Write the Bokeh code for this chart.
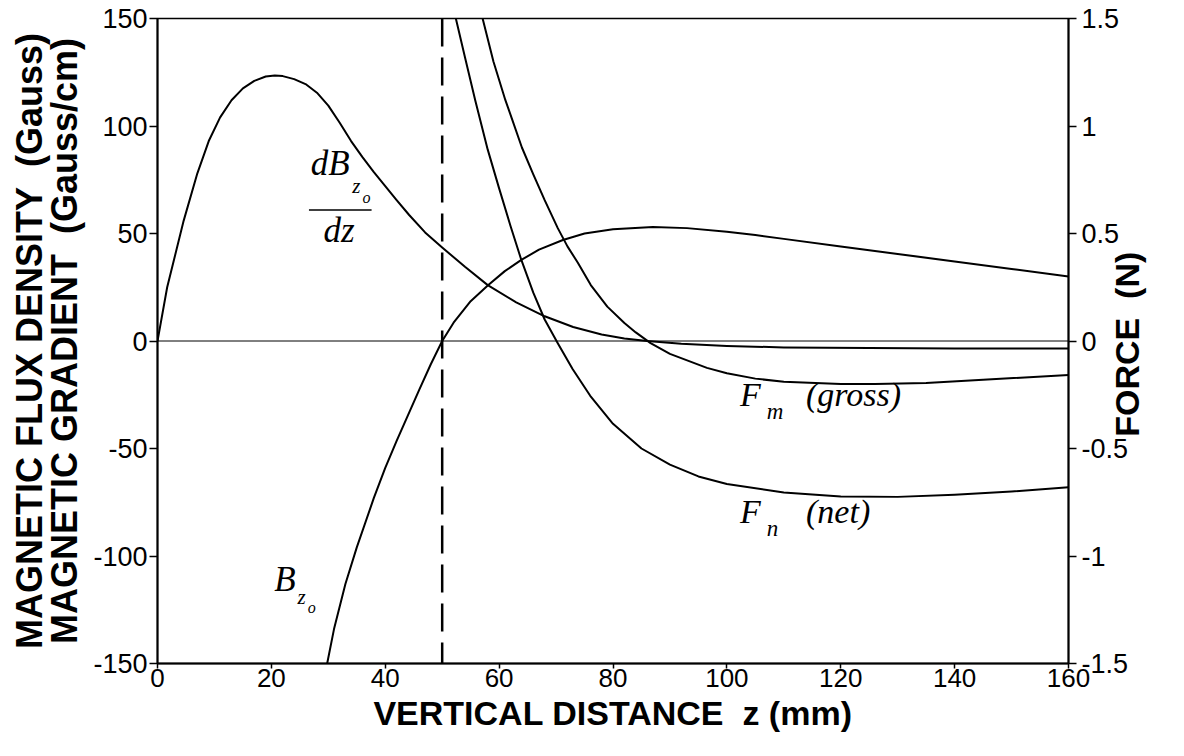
import math
from bokeh.plotting import figure
from bokeh.models import Range1d, LinearAxis, FixedTicker, Span, Label, CustomJSTickFormatter
from bokeh.embed import file_html
from bokeh.resources import INLINE

# ---------------- data ----------------
# magnetic gradient dBzo/dz (Gauss/cm), left axis
z_grad = [0, 1.7, 4.6, 7, 9, 11, 13, 15, 17, 19, 20.6, 22, 24, 26, 28, 30, 32, 34, 36, 38,
          40, 42, 44.2, 47, 50, 54, 58, 63, 68, 73, 78, 82, 86, 92, 100, 110, 125, 140, 160]
grad = [0, 25, 56, 78, 93, 104, 112, 117.5, 121, 123, 123.5, 123.2, 121.8, 119.5, 115.5,
        109.5, 101.5, 93, 85.5, 78.5, 72, 65.5, 58.6, 50.5, 43.5, 34.5, 26, 18, 11.5, 6.5,
        3, 1.2, 0, -1.3, -2.3, -3, -3.3, -3.5, -3.5]

# magnetic flux density Bzo (Gauss), left axis
z_flux = [29.8, 31, 33, 35, 38, 40, 42, 44, 46, 48, 50, 52, 55, 58.1, 61, 63.9, 67,
          71.2, 75, 80, 87, 93, 100, 105, 110, 120, 130, 140, 150, 160]
flux = [-150, -134, -113, -96, -73, -59, -46.5, -34.5, -22.5, -10.8, 0, 8.5, 18.5, 26,
        32.5, 37.7, 42.5, 47, 50, 52, 53, 52.5, 50.8, 49.3, 47.5, 44, 40.5, 37, 33.5, 30]

# gross magnetic force Fm (N), right axis
z_gross = [57.1, 59, 61.1, 62.3, 64, 66, 68, 70.3, 72, 73.8, 76.1, 79, 82, 84, 86.6,
           90, 96.5, 100, 105, 110, 120, 126, 135, 145, 160]
f_gross = [1.5, 1.30, 1.12, 1.03, 0.90, 0.775, 0.655, 0.525, 0.44, 0.365, 0.26, 0.16,
           0.084, 0.04, -0.01, -0.06, -0.125, -0.15, -0.175, -0.19, -0.20, -0.20,
           -0.195, -0.18, -0.158]

# net force Fn (N), right axis
z_net = [52.4, 54, 55.8, 58, 60, 62, 63.9, 66, 68, 70.3, 72.9, 76, 80, 85, 90, 95, 100,
         110, 120, 130, 140, 150, 160]
f_net = [1.5, 1.32, 1.12, 0.89, 0.71, 0.535, 0.377, 0.225, 0.10, -0.01, -0.13, -0.255,
         -0.385, -0.50, -0.575, -0.63, -0.665, -0.705, -0.723, -0.725, -0.715, -0.70, -0.68]

x_ticks = [0, 20, 40, 60, 80, 100, 120, 140, 160]
left_ticks = [-150, -100, -50, 0, 50, 100, 150]
right_ticks = [-1.5, -1, -0.5, 0, 0.5, 1, 1.5]
gap_position = 50  # dashed vertical marker (mm)

NB = "\u00a0"

# ---------------- figure ----------------
p = figure(width=1168, height=740, x_range=Range1d(0, 160), y_range=Range1d(-150, 150),
           output_backend="svg", toolbar_location=None,
           min_border_left=157, min_border_right=93, min_border_top=18, min_border_bottom=77)
p.extra_y_ranges = {"force": Range1d(-1.5, 1.5)}
p.grid.visible = False
p.outline_line_color = "black"
p.outline_line_width = 1.5
p.background_fill_color = "white"
p.border_fill_color = "white"

fmt = CustomJSTickFormatter(code="return tick.toString();")
right_axis = LinearAxis(y_range_name="force")
p.add_layout(right_axis, "right")

p.xaxis.ticker = FixedTicker(ticks=x_ticks)
p.yaxis[0].ticker = FixedTicker(ticks=left_ticks)
right_axis.ticker = FixedTicker(ticks=right_ticks)

for ax in [p.xaxis[0], p.yaxis[0], right_axis]:
    ax.formatter = fmt
    ax.major_tick_in = 0
    ax.major_tick_out = 8
    ax.minor_tick_in = 0
    ax.minor_tick_out = 0
    ax.axis_line_width = 2
    ax.axis_line_color = "black"
    ax.major_tick_line_width = 1.5
    ax.major_tick_line_color = "black"
    ax.major_label_text_font = "Liberation Sans"
    ax.major_label_text_font_size = "27px"
    ax.major_label_text_color = "black"
    ax.axis_label_text_font = "Liberation Sans"
    ax.axis_label_text_font_style = "bold"
    ax.axis_label_text_color = "black"
p.xaxis[0].major_tick_out = 5
p.xaxis[0].major_label_standoff = 0
p.xaxis[0].major_label_text_font_size = "26px"
p.yaxis[0].major_label_standoff = 2
right_axis.major_label_standoff = 5

# axis titles
p.xaxis[0].axis_label = "VERTICAL DISTANCE" + NB + NB + "z (mm)"
p.xaxis[0].axis_label_text_font_size = "34px"
p.xaxis[0].axis_label_standoff = 4

p.yaxis[0].axis_label = "MAGNETIC GRADIENT" + NB + NB + "(Gauss/cm)"
p.yaxis[0].axis_label_text_font_size = "36px"
p.yaxis[0].axis_label_standoff = 5

outer = LinearAxis(ticker=FixedTicker(ticks=[]), axis_line_color=None,
                   major_tick_out=0, major_tick_in=0, minor_tick_out=0, minor_tick_in=0,
                   major_label_standoff=0,
                   axis_label="MAGNETIC FLUX DENSITY" + NB + NB + "(Gauss)",
                   axis_label_text_font="Liberation Sans", axis_label_text_font_style="bold",
                   axis_label_text_font_size="36px", axis_label_text_color="black",
                   axis_label_standoff=-8)
p.add_layout(outer, "left")

force_title = "FORCE" + NB + NB + "(N)"
right_axis.axis_label_text_font_size = "34px"
right_axis.axis_label_standoff = -4
props = right_axis.properties()
if "axis_label_orientation" in props and "axis_label_align" in props:
    right_axis.axis_label_orientation = math.pi / 2
    right_axis.axis_label_align = "start"
    force_title = NB * 24 + force_title
elif "axis_label_orientation" in props:
    right_axis.axis_label_orientation = math.pi / 2
right_axis.axis_label = force_title

# reference lines
p.add_layout(Span(location=0, dimension="width", line_color="black", line_width=1))
p.add_layout(Span(location=gap_position, dimension="height", line_color="black",
                  line_width=2.5, line_dash="28 11"))

# curves
lw = 2
p.line(z_grad, grad, line_color="black", line_width=lw, line_join="round")
p.line(z_flux, flux, line_color="black", line_width=lw, line_join="round")
p.line(z_gross, f_gross, y_range_name="force", line_color="black", line_width=lw, line_join="round")
p.line(z_net, f_net, y_range_name="force", line_color="black", line_width=lw, line_join="round")

# ---------------- curve labels ----------------
SERIF = "Liberation Serif"

def lab(x, y, text, size):
    p.add_layout(Label(x=x, y=y, text=text, text_font=SERIF, text_font_style="italic",
                       text_font_size=size, text_color="black"))

# dB_zo / dz
lab(26.9, 73.5, "dB", "35px")
lab(34.2, 66.5, "z", "21px")
lab(36.0, 63.0, "o", "16px")
p.segment(x0=[26.6], y0=[60.9], x1=[37.6], y1=[60.9], line_color="black", line_width=1.5)
p.add_layout(Label(x=31.9, y=42.3, text="dz", text_font=SERIF, text_font_style="italic",
                   text_font_size="35px", text_color="black", text_align="center"))

# B_zo
lab(20.5, -120, "B", "35px")
lab(24.6, -124.5, "z", "21px")
lab(26.4, -128, "o", "16px")

# F_m (gross)
lab(102.3, -33.5, "F", "34px")
lab(107.0, -38.5, "m", "23px")
lab(113.9, -33.5, "(gross)", "34px")

# F_n (net)
lab(102.3, -88, "F", "34px")
lab(107.0, -93, "n", "23px")
lab(113.9, -88, "(net)", "34px")

open("out.html", "w").write(file_html(p, INLINE))
